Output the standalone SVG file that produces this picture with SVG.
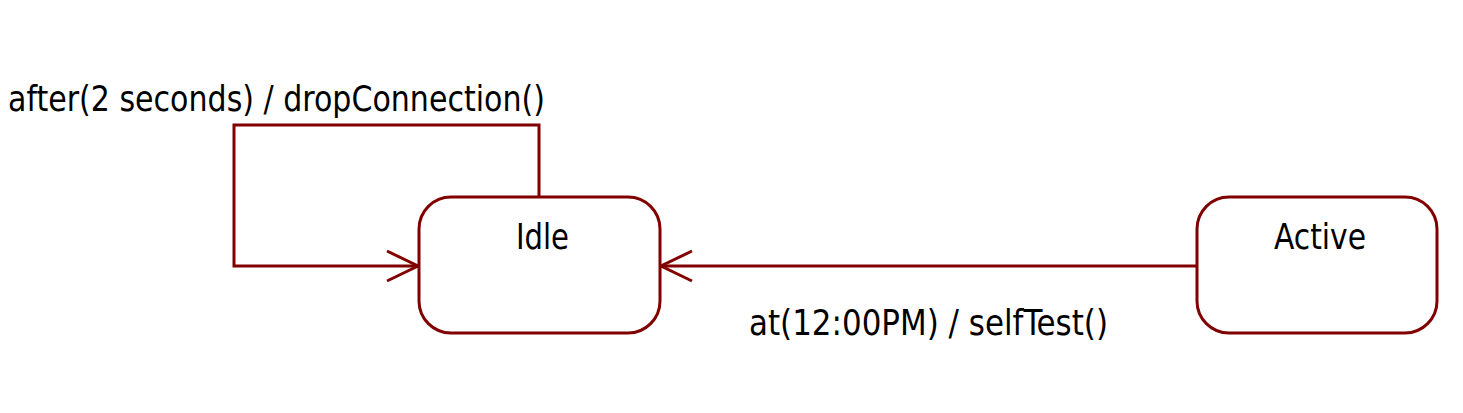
<svg xmlns="http://www.w3.org/2000/svg" width="1463" height="413" viewBox="0 0 1463 413">
<style>
.st{fill:#fff;stroke:#800000;stroke-width:3}
.ln{fill:none;stroke:#800000;stroke-width:3}
.t{font-family:"DejaVu Sans Condensed","DejaVu Sans",sans-serif;font-size:36px;fill:#000}
</style>
<defs>
<marker id="open" markerUnits="userSpaceOnUse" markerWidth="40" markerHeight="40" refX="32" refY="16" orient="auto" viewBox="0 0 40 32">
<path d="M1,1 L32,16 L1,31" fill="none" stroke="#800000" stroke-width="3"/>
</marker>
</defs>
<rect width="1463" height="413" fill="#fff"/>
<g id="connectors">
<path id="self" class="ln" d="M539,197 V125 H234 V266 H418" marker-end="url(#open)"/>
<text class="t" x="8" y="111" textLength="537" lengthAdjust="spacingAndGlyphs">after(2 seconds) / dropConnection()</text>
<path id="a2i" class="ln" d="M1197,266 H661" marker-end="url(#open)"/>
<text class="t" x="749" y="335" textLength="359" lengthAdjust="spacingAndGlyphs">at(12:00PM) / selfTest()</text>
</g>
<g id="idle">
<rect class="st" x="419" y="197" width="241" height="136" rx="32" ry="32"/>
<text class="t" x="516" y="249" textLength="53" lengthAdjust="spacingAndGlyphs">Idle</text>
</g>
<g id="active">
<rect class="st" x="1197" y="197" width="240" height="136" rx="32" ry="32"/>
<text class="t" x="1274" y="249" textLength="92" lengthAdjust="spacingAndGlyphs">Active</text>
</g>
</svg>
